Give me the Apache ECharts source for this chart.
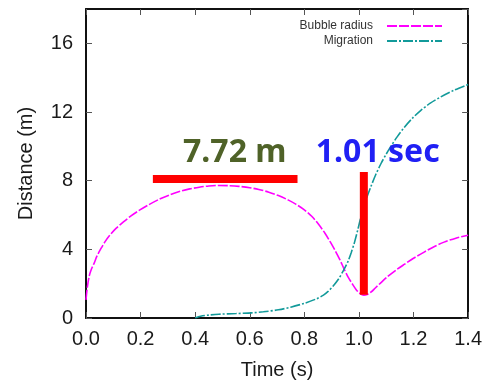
<!DOCTYPE html>
<html>
<head>
<meta charset="utf-8">
<script src="https://cdn.jsdelivr.net/npm/echarts@6/dist/echarts.min.js"></script>
<style>html,body{margin:0;padding:0;background:#fff;}#c{width:485px;height:385px;}</style>
</head>
<body>
<div id="c"></div>
<script>
// Bubble radius (m) vs time (s)
const bubbleTime = [0, 0.005, 0.012, 0.02, 0.03, 0.04, 0.055, 0.07, 0.087, 0.11, 0.136, 0.165, 0.196, 0.23, 0.269, 0.305, 0.342, 0.38, 0.415, 0.45, 0.487, 0.523, 0.56, 0.6, 0.633, 0.67, 0.705, 0.74, 0.77, 0.8, 0.827, 0.85, 0.875, 0.895, 0.912, 0.93, 0.945, 0.96, 0.978, 0.99, 1.0, 1.01, 1.018, 1.03, 1.045, 1.06, 1.08, 1.105, 1.135, 1.166, 1.2, 1.239, 1.275, 1.312, 1.355, 1.4];
const bubbleRadius = [1.06, 1.8, 2.45, 2.85, 3.2, 3.6, 4.05, 4.45, 4.82, 5.22, 5.58, 5.95, 6.28, 6.6, 6.92, 7.16, 7.37, 7.52, 7.62, 7.69, 7.72, 7.71, 7.67, 7.59, 7.49, 7.33, 7.13, 6.88, 6.62, 6.3, 5.93, 5.5, 4.95, 4.43, 3.95, 3.4, 2.88, 2.4, 1.93, 1.65, 1.48, 1.37, 1.33, 1.37, 1.52, 1.75, 2.05, 2.41, 2.78, 3.12, 3.48, 3.84, 4.15, 4.42, 4.65, 4.82];
// Migration (m) vs time (s)
const migrationTime = [0.40, 0.42, 0.45, 0.487, 0.55, 0.608, 0.65, 0.705, 0.75, 0.803, 0.845, 0.87, 0.887, 0.905, 0.924, 0.945, 0.96, 0.972, 0.984, 0.996, 1.008, 1.025, 1.045, 1.063, 1.081, 1.1, 1.117, 1.14, 1.166, 1.195, 1.227, 1.26, 1.3, 1.35, 1.4];
const migration = [0, 0.1, 0.17, 0.22, 0.26, 0.3, 0.36, 0.48, 0.63, 0.87, 1.12, 1.33, 1.55, 1.85, 2.24, 2.82, 3.3, 3.82, 4.42, 5.15, 5.93, 6.85, 7.7, 8.4, 9.0, 9.55, 10.0, 10.55, 11.1, 11.62, 12.1, 12.5, 12.88, 13.28, 13.6];
// Annotations
const maxRadiusBarTime = [0.245, 0.775];
const maxRadiusBarValue = [8.1, 8.1];
const minRadiusBarTime = [1.018, 1.018];
const minRadiusBarValue = [8.5, 1.35];
const annotationTexts = ['7.72 m', '1.01 sec'];
const annotationTime = [0.545, 1.069];
const annotationValue = [9.6, 9.6];
const annotationColors = ['#4f6228', '#2020f4'];
// Axes
const xTicks = [0, 0.2, 0.4, 0.6, 0.8, 1.0, 1.2, 1.4];
const yTicks = [0, 4, 8, 12, 16];

const zip = (a, b) => a.map((x, i) => [x, b[i]]);
const chart = echarts.init(document.getElementById('c'), null, {renderer: 'canvas'});
const font = 'Liberation Sans, Arial, sans-serif';
const frame = {show: true, onZero: false, lineStyle: {color: '#111', width: 2}};
const tick = {show: true, inside: true, length: 6, lineStyle: {color: '#555', width: 1}};
const xBase = {type: 'value', min: xTicks[0], max: xTicks[xTicks.length - 1], interval: 0.2, splitLine: {show: false}, axisLine: frame, axisTick: tick};
const yBase = {type: 'value', min: 0, max: 18, interval: 4, splitLine: {show: false}, axisLine: frame, axisTick: tick};

chart.setOption({
  animation: false,
  backgroundColor: '#fff',
  grid: {left: 86, right: 14, top: 9, bottom: 65, containLabel: false},
  legend: {
    data: ['Bubble radius', 'Migration'],
    orient: 'vertical', right: 42, top: 20, padding: 0, itemGap: 3,
    align: 'right', itemWidth: 55, itemHeight: 14,
    itemStyle: {opacity: 0},
    textStyle: {fontFamily: font, fontSize: 12, color: '#333', padding: [0, 9, 0, 0]},
    selectedMode: false
  },
  xAxis: [
    Object.assign({}, xBase, {
      position: 'bottom',
      name: 'Time (s)', nameLocation: 'middle', nameGap: 42,
      nameTextStyle: {fontFamily: font, fontSize: 20, color: '#1a1a1a'},
      axisLabel: {fontFamily: font, fontSize: 20, color: '#1a1a1a', margin: 11, formatter: v => v.toFixed(1)}
    }),
    Object.assign({}, xBase, {position: 'top', axisLabel: {show: false}})
  ],
  yAxis: [
    Object.assign({}, yBase, {
      position: 'left',
      name: 'Distance (m)', nameLocation: 'middle', nameGap: 50,
      nameTextStyle: {fontFamily: font, fontSize: 20, color: '#1a1a1a'},
      axisLabel: {fontFamily: font, fontSize: 20, color: '#1a1a1a', margin: 13, showMaxLabel: false,
        formatter: v => (yTicks.indexOf(v) >= 0 ? String(v) : '')}
    }),
    Object.assign({}, yBase, {position: 'right', axisLabel: {show: false}})
  ],
  series: [
    {
      name: 'Bubble radius', type: 'line', data: zip(bubbleTime, bubbleRadius),
      symbol: 'none', smooth: 0.3, color: '#ff00ff',
      lineStyle: {color: '#ff00ff', width: 1.6, type: [10, 2]}
    },
    {
      name: 'Migration', type: 'line', data: zip(migrationTime, migration),
      symbol: 'none', smooth: 0.3, color: '#129a9a',
      lineStyle: {color: '#129a9a', width: 1.6, type: [10, 2, 2, 2]}
    },
    {
      name: 'maxbar', type: 'line', data: zip(maxRadiusBarTime, maxRadiusBarValue),
      symbol: 'none', lineStyle: {color: '#ff0000', width: 8, cap: 'butt'}, z: 5
    },
    {
      name: 'minbar', type: 'line', data: zip(minRadiusBarTime, minRadiusBarValue),
      symbol: 'none', lineStyle: {color: '#ff0000', width: 8, cap: 'butt'}, z: 5
    },
    {
      name: 'labels', type: 'scatter', symbolSize: 1, itemStyle: {color: 'rgba(0,0,0,0)', opacity: 1},
      data: annotationTime.map((t, i) => ({
        value: [t, annotationValue[i]],
        label: {show: true, position: 'inside', formatter: annotationTexts[i],
          fontFamily: 'Noto Sans, sans-serif', fontWeight: 'bold', fontSize: 32, color: annotationColors[i]}
      })),
      z: 6
    }
  ]
});
</script>
</body>
</html>
